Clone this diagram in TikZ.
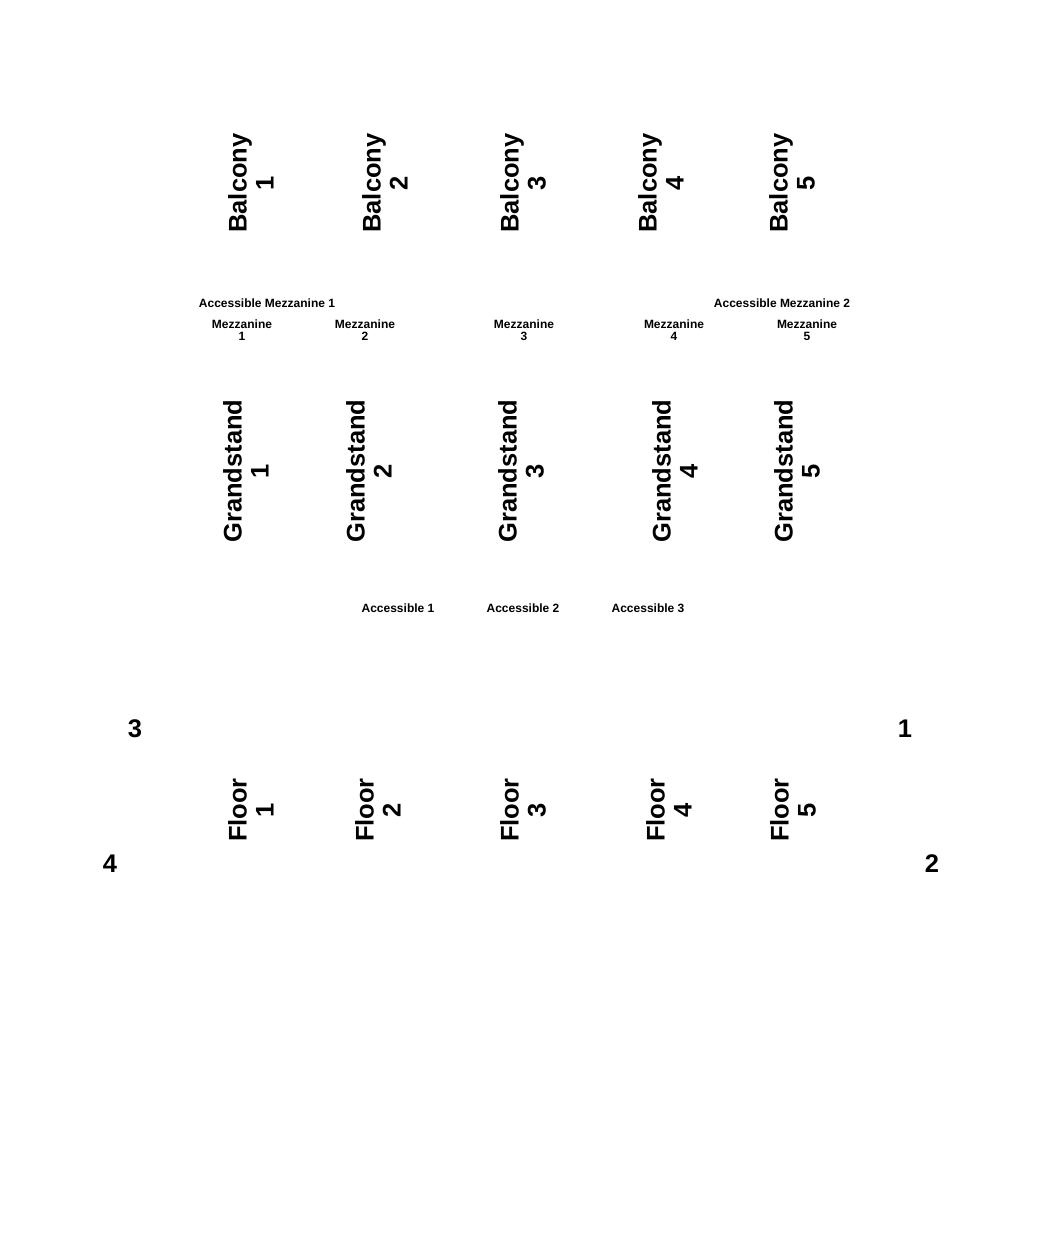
\documentclass[tikz,border=0pt]{standalone}
\usepackage{fontspec}
\setmainfont{Liberation Sans}
\usepackage{tikz}

\begin{document}
\begin{tikzpicture}[x=1pt,y=-1pt,
    big/.style={font=\bfseries\fontsize{25.5}{27}\selectfont,align=center,inner sep=0pt},
    side/.style={big,rotate=90},
    small/.style={font=\bfseries\fontsize{12}{12}\selectfont,align=center,inner sep=0pt}]
  \useasboundingbox (0,0) rectangle (1050,1240);
  % balconies
  \node[side] (b1) at (251,183) {Balcony\\1};
  \node[side] (b2) at (385,183) {Balcony\\2};
  \node[side] (b3) at (523,183) {Balcony\\3};
  \node[side] (b4) at (661,183) {Balcony\\4};
  \node[side] (b5) at (792,183) {Balcony\\5};
  % mezzanine row
  \node[small] (am1) at (267,303) {Accessible Mezzanine 1};
  \node[small] (am2) at (782,303) {Accessible Mezzanine 2};
  \node[small] (m1) at (242,330) {Mezzanine\\1};
  \node[small] (m2) at (365,330) {Mezzanine\\2};
  \node[small] (m3) at (524,330) {Mezzanine\\3};
  \node[small] (m4) at (674,330) {Mezzanine\\4};
  \node[small] (m5) at (807,330) {Mezzanine\\5};
  % grandstands
  \node[side] (g1) at (246,471) {Grandstand\\1};
  \node[side] (g2) at (369,471) {Grandstand\\2};
  \node[side] (g3) at (521,471) {Grandstand\\3};
  \node[side] (g4) at (675,471) {Grandstand\\4};
  \node[side] (g5) at (797,471) {Grandstand\\5};
  \node[small] (a1) at (398,608) {Accessible 1};
  \node[small] (a2) at (523,608) {Accessible 2};
  \node[small] (a3) at (648,608) {Accessible 3};
  % floor
  \node[side] (f1) at (251,810) {Floor\\1};
  \node[side] (f2) at (378,810) {Floor\\2};
  \node[side] (f3) at (523,810) {Floor\\3};
  \node[side] (f4) at (669,810) {Floor\\4};
  \node[side] (f5) at (793,810) {Floor\\5};
  % corners
  \node[big] (c3) at (135,729) {3};
  \node[big] (c1) at (905,729) {1};
  \node[big] (c4) at (110,864) {4};
  \node[big] (c2) at (932,864) {2};
\end{tikzpicture}
\end{document}
